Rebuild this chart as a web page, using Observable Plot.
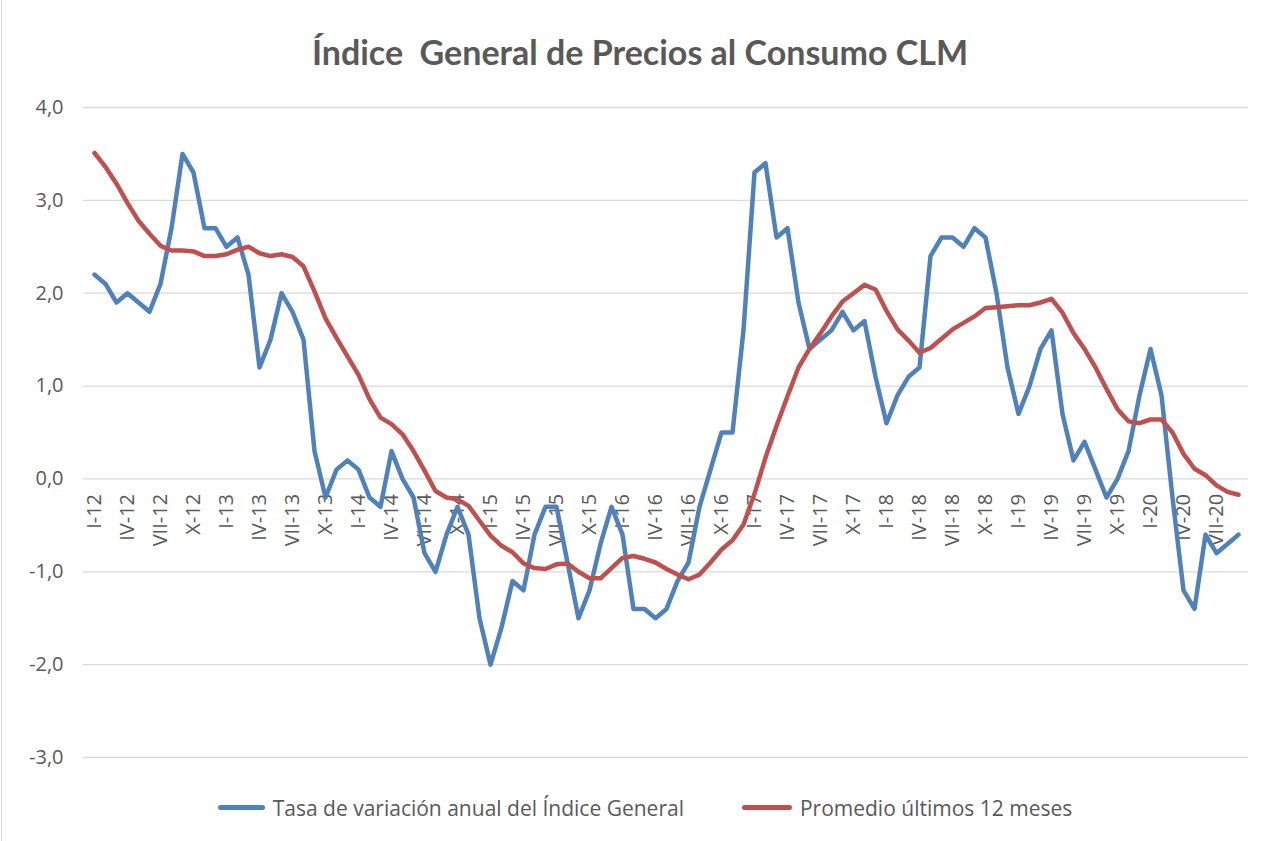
<!DOCTYPE html>
<html>
<head>
<meta charset="utf-8">
<script src="https://cdn.jsdelivr.net/npm/d3@7"></script>
<script src="https://cdn.jsdelivr.net/npm/@observablehq/plot@0.6"></script>
<style>
  body { margin: 0; background: #fff; }
  #page { position: relative; width: 1274px; height: 841px; overflow: hidden; }
  #border { position: absolute; left: 1px; top: 0; width: 1px; height: 841px; background: #d9d9d9; }
  #title { height: 67px; padding-top: 18px; display: flex; align-items: center; justify-content: center;
           font-family: Lato, "Open Sans", sans-serif; font-weight: bold; font-size: 34px; color: #595959; padding-left: 6px; }
  #chart svg { display: block; }
  #legend { height: 45px; display: flex; align-items: center; justify-content: center; gap: 58px;
            font-family: "Open Sans", sans-serif; font-size: 21px; color: #595959; padding-left: 16px; }
  .item { display: flex; align-items: center; }
  .sw { height: 5px; border-radius: 3px; margin-right: 8px; }
</style>
</head>
<body>
<div id="page">
  <div id="border"></div>
  <div id="title">Índice&nbsp; General de Precios al Consumo CLM</div>
  <div id="chart"></div>
  <div id="legend">
    <div class="item"><div class="sw" style="background:#4f81bd;width:47px"></div><span>Tasa de variación anual del Índice General</span></div>
    <div class="item"><div class="sw" style="background:#c0504d;width:50px"></div><span>Promedio últimos 12 meses</span></div>
  </div>
</div>
<script>
const months = ["I","II","III","IV","V","VI","VII","VIII","IX","X","XI","XII"];
const years = ["12","13","14","15","16","17","18","19","20"];

const tasa = [
  2.2, 2.1, 1.9, 2.0, 1.9, 1.8, 2.1, 2.7, 3.5, 3.3, 2.7, 2.7,
  2.5, 2.6, 2.2, 1.2, 1.5, 2.0, 1.8, 1.5, 0.3, -0.2, 0.1, 0.2,
  0.1, -0.2, -0.3, 0.3, 0.0, -0.2, -0.8, -1.0, -0.6, -0.3, -0.6, -1.5,
  -2.0, -1.6, -1.1, -1.2, -0.6, -0.3, -0.3, -0.9, -1.5, -1.2, -0.7, -0.3,
  -0.6, -1.4, -1.4, -1.5, -1.4, -1.1, -0.9, -0.3, 0.1, 0.5, 0.5, 1.6,
  3.3, 3.4, 2.6, 2.7, 1.9, 1.4, 1.5, 1.6, 1.8, 1.6, 1.7, 1.1,
  0.6, 0.9, 1.1, 1.2, 2.4, 2.6, 2.6, 2.5, 2.7, 2.6, 2.0, 1.2,
  0.7, 1.0, 1.4, 1.6, 0.7, 0.2, 0.4, 0.1, -0.2, 0.0, 0.3, 0.9,
  1.4, 0.9, -0.2, -1.2, -1.4, -0.6, -0.8, -0.7, -0.6
];

const promedio = [
  3.51, 3.36, 3.18, 2.97, 2.78, 2.64, 2.51, 2.46, 2.46, 2.45, 2.40, 2.40,
  2.42, 2.47, 2.50, 2.43, 2.40, 2.42, 2.39, 2.29, 2.02, 1.73, 1.52, 1.32,
  1.12, 0.86, 0.66, 0.59, 0.48, 0.30, 0.09, -0.13, -0.20, -0.22, -0.29, -0.45,
  -0.61, -0.72, -0.79, -0.91, -0.96, -0.97, -0.92, -0.91, -1.00, -1.07, -1.07, -0.96,
  -0.85, -0.83, -0.86, -0.90, -0.97, -1.03, -1.08, -1.03, -0.90, -0.76, -0.66, -0.49,
  -0.16, 0.23, 0.57, 0.89, 1.20, 1.40, 1.57, 1.75, 1.91, 2.00, 2.09, 2.04,
  1.81, 1.61, 1.49, 1.36, 1.41, 1.51, 1.61, 1.68, 1.75, 1.84, 1.85, 1.86,
  1.87, 1.87, 1.90, 1.94, 1.79, 1.57, 1.40, 1.20, 0.97, 0.75, 0.62, 0.60,
  0.64, 0.64, 0.50, 0.27, 0.11, 0.04, -0.07, -0.14, -0.17
];

const yTicks = [-3, -2, -1, 0, 1, 2, 3, 4];

const labels = tasa.map((_, i) => months[i % 12] + "-" + years[Math.floor(i / 12)]);
const tickLabels = labels.filter((_, i) => i % 3 === 0);
const fmt = d => d.toFixed(1).replace(".", ",");

const chart = Plot.plot({
  width: 1274,
  height: 700,
  marginTop: 22,
  marginBottom: 28,
  marginLeft: 83,
  marginRight: 26,
  style: { fontFamily: "'Open Sans', sans-serif", fontSize: "20px", color: "#595959", background: "transparent" },
  x: { type: "point", domain: labels, padding: 0.5, axis: null },
  y: { domain: [-3, 4], axis: null },
  marks: [
    Plot.gridY(yTicks, { stroke: "#d9d9d9", strokeOpacity: 1, strokeWidth: 1.3 }),
    Plot.axisY(yTicks, { tickSize: 0, tickPadding: 20, tickFormat: fmt, label: null, fill: "#595959", fontSize: 20 }),
    Plot.text(tickLabels, { x: d => d, y: 0, text: d => d, rotate: -90, textAnchor: "end", dy: 15, fill: "#595959", fontSize: 20 }),
    Plot.lineY(tasa, { x: (d, i) => labels[i], y: d => d, stroke: "#4f81bd", strokeWidth: 4.5, strokeLinejoin: "round", strokeLinecap: "round" }),
    Plot.lineY(promedio, { x: (d, i) => labels[i], y: d => d, stroke: "#c0504d", strokeWidth: 4.5, strokeLinejoin: "round", strokeLinecap: "round" })
  ]
});
document.getElementById("chart").appendChild(chart);
</script>
</body>
</html>
